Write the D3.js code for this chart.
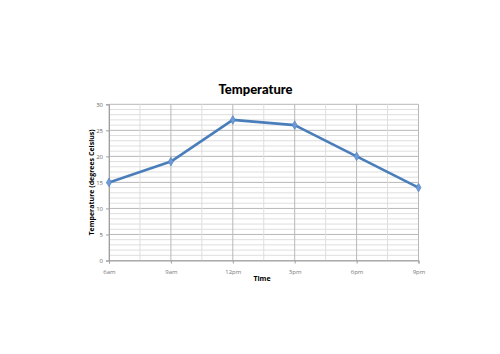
<!DOCTYPE html>
<html><head><meta charset="utf-8">
<script src="https://cdn.jsdelivr.net/npm/d3@7"></script>
<style>body{margin:0;background:#fff}svg{display:block}</style>
</head><body>
<svg id="c" width="500" height="354"></svg>
<script>
const categories = ["6am","9am","12pm","3pm","6pm","9pm"];
const temperatures = [15, 19, 27, 26, 20, 14];
const yTicks = [0,5,10,15,20,25,30];

const svg = d3.select("#c");
const L=109, R=418.5, T=104.3, B=260.5;
const x = d3.scalePoint().domain(categories).range([L,R]);
const y = d3.scaleLinear().domain([0,30]).range([B,T]);
const step = x.step();

const g = svg.append("g");
g.selectAll(".hmin").data(d3.range(0,31,1)).enter().append("line")
 .attr("x1",L).attr("x2",R).attr("y1",d=>y(d)).attr("y2",d=>y(d))
 .attr("stroke",d=>d%5===0?"#b8b8b8":"#dedede").attr("stroke-width",1);
const mids = categories.slice(0,-1).map(c=>x(c)+step/2);
g.selectAll(".vmin").data(mids).enter().append("line")
 .attr("x1",d=>d).attr("x2",d=>d).attr("y1",T).attr("y2",B)
 .attr("stroke","#dedede");
g.selectAll(".vmaj").data(categories).enter().append("line")
 .attr("x1",d=>x(d)).attr("x2",d=>x(d)).attr("y1",T).attr("y2",B)
 .attr("stroke","#b8b8b8");

const ya = svg.append("g").attr("transform",`translate(${L},0)`)
 .call(d3.axisLeft(y).tickValues(yTicks).tickSize(3).tickPadding(3));
ya.select(".domain").attr("stroke","#a0a0a0");
ya.selectAll(".tick line").attr("stroke","#a0a0a0");
ya.selectAll("text").attr("font-family","Open Sans, sans-serif").attr("font-size",6).attr("fill","#666");

const xa = svg.append("g").attr("transform",`translate(0,${B})`)
 .call(d3.axisBottom(x).tickSize(3).tickPadding(6));
xa.select(".domain").attr("stroke","#a0a0a0");
xa.selectAll(".tick line").attr("stroke","#a0a0a0");
xa.selectAll("text").attr("font-family","Open Sans, sans-serif").attr("font-size",6).attr("fill","#777");

const line = d3.line().x((d,i)=>x(categories[i])).y(d=>y(d));
svg.append("path").datum(temperatures).attr("d",line)
 .attr("fill","none").attr("stroke","#4a7ebb").attr("stroke-width",2.6)
 .attr("stroke-linejoin","round");
svg.selectAll(".pt").data(temperatures).enter().append("path")
 .attr("d",d3.symbol().type(d3.symbolDiamond).size(22))
 .attr("transform",(d,i)=>`translate(${x(categories[i])},${y(d)})`)
 .attr("fill","#6f9ad6").attr("stroke","#4a7ebb").attr("stroke-width",0.6);

svg.append("text").attr("x",255.5).attr("y",94).attr("text-anchor","middle")
 .attr("font-family","Lato, sans-serif").attr("font-weight","900").attr("font-size",13)
 .attr("fill","#000").text("Temperature");
svg.append("text").attr("x",262).attr("y",281).attr("text-anchor","middle")
 .attr("font-family","Open Sans, sans-serif").attr("font-weight","bold").attr("font-size",7)
 .attr("fill","#000").text("Time");
svg.append("text").attr("transform",`translate(94,${(T+B)/2}) rotate(-90)`).attr("text-anchor","middle")
 .attr("font-family","Open Sans, sans-serif").attr("font-weight","bold").attr("font-size",7)
 .attr("fill","#000").text("Temperature (degrees Celsius)");
</script>
</body></html>
